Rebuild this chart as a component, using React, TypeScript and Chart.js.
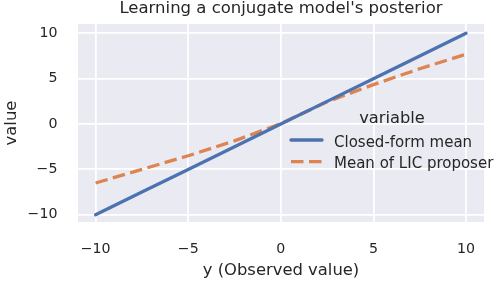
import React, { useEffect, useRef } from "react";
import { Chart, registerables } from "chart.js";

Chart.register(...registerables);

// ---- data ----
const xValues = [-10, -7.5, -5, -2.5, 0, 2.5, 5, 7.5, 10];
const closedFormMean = [-10, -7.5, -5, -2.5, 0, 2.5, 5, 7.5, 10];
const licProposerMean = [-6.5, -5.0, -3.5, -1.85, 0.05, 2.45, 4.35, 6.1, 7.7];
const xTicks = [-10, -5, 0, 5, 10];
const yTicks = [-10, -5, 0, 5, 10];
const seriesLabels = ["Closed-form mean", "Mean of LIC proposer"];
const legendTitle = "variable";
const chartTitle = "Learning a conjugate model's posterior";
const xAxisLabel = "y (Observed value)";
const yAxisLabel = "value";

const FONT = '"DejaVu Sans", sans-serif';
const TEXT = "#262626";
const BLUE = "#4c72b0";
const ORANGE = "#dd8452";

const fmt = (v: number) => (v < 0 ? "\u2212" + Math.abs(v) : String(v));

const bgPlugin = {
  id: "bg",
  beforeDraw(chart: any) {
    const { ctx, chartArea } = chart;
    ctx.save();
    ctx.fillStyle = "#eaeaf2";
    ctx.fillRect(chartArea.left, chartArea.top, chartArea.right - chartArea.left, chartArea.bottom - chartArea.top);
    ctx.restore();
  },
};

const overlayPlugin = {
  id: "overlay",
  afterDraw(chart: any) {
    const ctx = chart.ctx;
    const ca = chart.chartArea;
    ctx.save();
    ctx.fillStyle = TEXT;
    // title
    ctx.textAlign = "center";
    ctx.textBaseline = "middle";
    ctx.font = `16.5px ${FONT}`;
    ctx.fillText(chartTitle, (ca.left + ca.right) / 2, 8.5);
    // legend
    ctx.textBaseline = "alphabetic";
    ctx.font = `16.3px ${FONT}`;
    ctx.fillText(legendTitle, 392, 123.3);
    const rows = [140, 161.7];
    chart.data.datasets.forEach((ds: any, i: number) => {
      const y = rows[i];
      ctx.beginPath();
      ctx.strokeStyle = ds.borderColor;
      ctx.lineWidth = ds.borderWidth;
      ctx.lineCap = ds.borderDash && ds.borderDash.length ? "butt" : "round";
      ctx.setLineDash(ds.borderDash || []);
      ctx.moveTo(291, y);
      ctx.lineTo(322, y);
      ctx.stroke();
      ctx.setLineDash([]);
      ctx.textAlign = "left";
      ctx.font = `15px ${FONT}`;
      ctx.fillStyle = TEXT;
      ctx.fillText(ds.label, 334, y + 6.6);
    });
    ctx.restore();
  },
};

export default function App() {
  const ref = useRef<HTMLCanvasElement | null>(null);
  useEffect(() => {
    document.body.style.margin = "0";
    if (!ref.current) return;
    const chart = new Chart(ref.current, {
      type: "line",
      data: {
        datasets: [
          {
            label: seriesLabels[0],
            data: xValues.map((x, i) => ({ x, y: closedFormMean[i] })),
            borderColor: BLUE,
            borderWidth: 3.3,
            borderCapStyle: "round",
            pointRadius: 0,
            tension: 0,
          },
          {
            label: seriesLabels[1],
            data: xValues.map((x, i) => ({ x, y: licProposerMean[i] })),
            borderColor: ORANGE,
            borderWidth: 3.3,
            borderDash: [12.5, 5.5],
            borderCapStyle: "butt",
            pointRadius: 0,
            tension: 0,
          },
        ],
      },
      options: {
        animation: false,
        responsive: false,
        events: [],
        layout: { padding: { left: 0, right: 12, top: 24, bottom: 0 } },
        plugins: {
          legend: { display: false },
          tooltip: { enabled: false },
          title: { display: false },
        },
        scales: {
          x: {
            type: "linear",
            min: -10.95,
            max: 10.97,
            afterBuildTicks: (s: any) => {
              s.ticks = xTicks.map((v) => ({ value: v }));
            },
            afterFit: (s: any) => {
              s.height = 60;
              s.paddingLeft = 0;
              s.paddingRight = 0;
            },
            grid: { color: "#ffffff", lineWidth: 1.8, drawTicks: false },
            border: { display: false },
            ticks: {
              color: TEXT,
              padding: 18.7,
              maxRotation: 0,
              font: { family: FONT, size: 14.2, lineHeight: 1.2 },
              callback: (v: any) => fmt(Number(v)),
            },
            title: {
              display: true,
              text: xAxisLabel,
              color: TEXT,
              font: { family: FONT, size: 16.4, lineHeight: 1.2 },
              padding: { top: 0, bottom: 1.5 },
            },
          },
          y: {
            type: "linear",
            min: -10.8,
            max: 11.03,
            afterBuildTicks: (s: any) => {
              s.ticks = yTicks.map((v) => ({ value: v }));
            },
            afterFit: (s: any) => {
              s.width = 78;
              s.paddingTop = 0;
              s.paddingBottom = 0;
            },
            grid: { color: "#ffffff", lineWidth: 1.8, drawTicks: false },
            border: { display: false },
            ticks: {
              color: TEXT,
              padding: 20.5,
              font: { family: FONT, size: 14.2, lineHeight: 1.2 },
              callback: (v: any) => fmt(Number(v)),
            },
            title: {
              display: true,
              text: yAxisLabel,
              color: TEXT,
              font: { family: FONT, size: 16.4, lineHeight: 1.2 },
              padding: { top: 1.5, bottom: 0 },
            },
          },
        },
      },
      plugins: [bgPlugin, overlayPlugin],
    } as any);
    return () => chart.destroy();
  }, []);
  return (
    <div style={{ width: 496, height: 282 }}>
      <canvas ref={ref} width={496} height={282} style={{ display: "block" }} />
    </div>
  );
}
